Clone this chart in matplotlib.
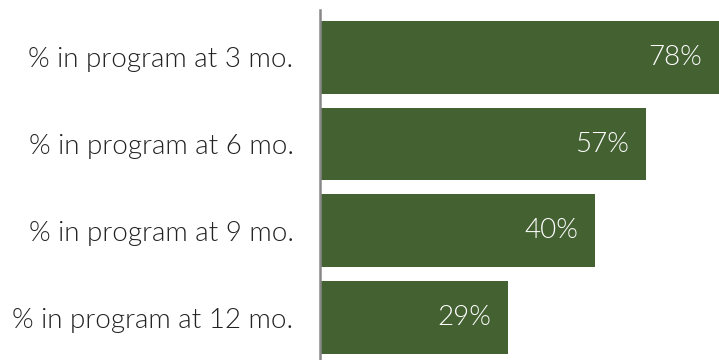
import matplotlib.pyplot as plt

# data
categories = ["% in program at 3 mo.", "% in program at 6 mo.",
              "% in program at 9 mo.", "% in program at 12 mo."]
value_labels = ["78%", "57%", "40%", "29%"]
# drawn bar lengths (scale where the right edge of the plot is 78)
bar_lengths = [78, 63.7, 53.8, 36.8]

bar_color = "#446132"

fig = plt.figure(figsize=(7.19, 3.6), dpi=100)
ax = fig.add_axes([320 / 719, 0, 399 / 719, 350 / 360])

y = list(range(len(categories)))
ax.barh(y, bar_lengths, height=0.84, color=bar_color)

for yi, length, lab in zip(y, bar_lengths, value_labels):
    ax.annotate(lab, (length, yi), xytext=(-12, 0), textcoords="offset points",
                ha="right", va="center", color="white", fontsize=20,
                family="Lato", fontweight=300)

ax.set_xlim(0, 78)
ax.set_ylim(3.49, -0.546)
ax.set_yticks(y)
ax.set_yticklabels(categories, fontsize=20, family="Lato", fontweight=300,
                   color="#222222")
ax.tick_params(axis="y", length=0, pad=19)
ax.set_xticks([])

for side in ["top", "right", "bottom"]:
    ax.spines[side].set_visible(False)
ax.spines["left"].set_color("#888888")
ax.spines["left"].set_linewidth(1.8)

fig.savefig("out.png", dpi=100)
